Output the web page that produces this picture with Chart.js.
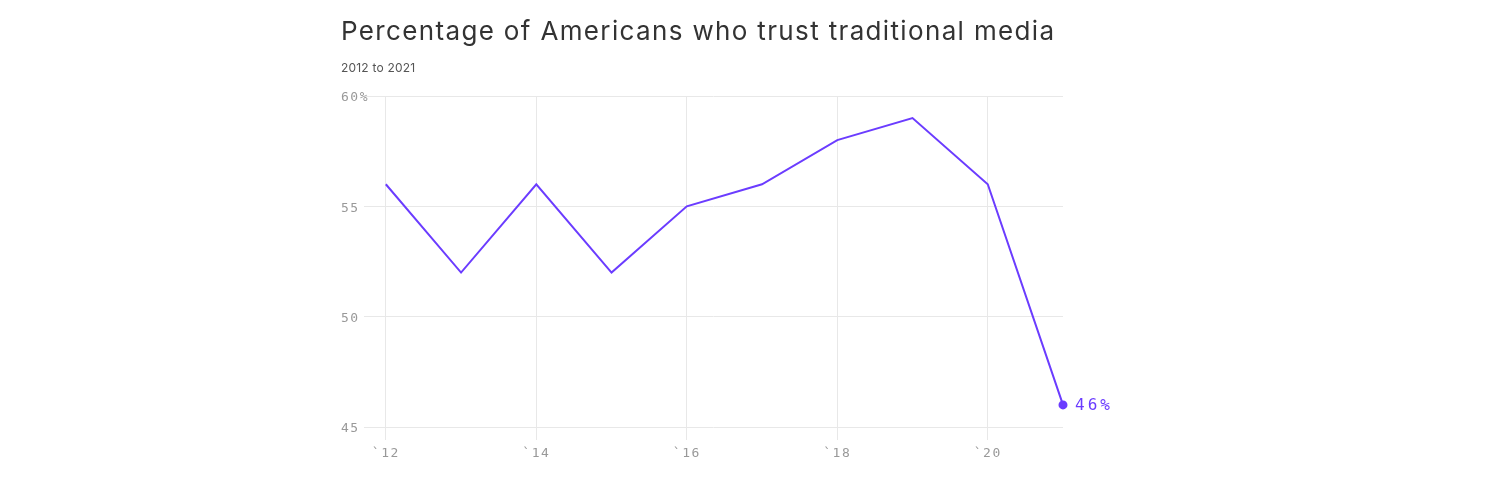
<!DOCTYPE html>
<html>
<head>
<meta charset="utf-8">
<script src="https://cdn.jsdelivr.net/npm/chart.js@4.4.0/dist/chart.umd.min.js"></script>
<style>
  html, body { margin: 0; padding: 0; background: #fff; }
  #wrap { position: relative; width: 1500px; height: 500px; }
  #title { position: absolute; left: 341px; top: 15px; font-family: Inter, sans-serif; font-size: 26px; letter-spacing: 1.35px; color: #333; white-space: nowrap; }
  #subtitle { position: absolute; left: 341px; top: 60px; font-family: Inter, sans-serif; font-size: 12px; letter-spacing: 0.2px; color: #555; white-space: nowrap; }
  canvas { position: absolute; left: 0; top: 0; }
</style>
</head>
<body>
<div id="wrap">
  <canvas id="chart" width="1500" height="500"></canvas>
  <div id="title">Percentage of Americans who trust traditional media</div>
  <div id="subtitle">2012 to 2021</div>
</div>
<script>
const years = [2012, 2013, 2014, 2015, 2016, 2017, 2018, 2019, 2020, 2021];
const trust = [56, 52, 56, 52, 55, 56, 58, 59, 56, 46];
const xTicks = [2012, 2014, 2016, 2018, 2020];
const yTicks = [45, 50, 55, 60];

const purple = "#6b3cff";
const mono = "'DejaVu Sans Mono', monospace";

// wider letter spacing for the axis text, like the original
const spacing = {
  id: "spacing",
  beforeDraw(chart) {
    chart.ctx.letterSpacing = "1.5px";
  }
};

const lastLabel = {
  id: "lastLabel",
  afterDatasetsDraw(chart) {
    const meta = chart.getDatasetMeta(0);
    const pt = meta.data[meta.data.length - 1];
    const ctx = chart.ctx;
    ctx.save();
    ctx.fillStyle = purple;
    ctx.font = "16px " + mono;
    ctx.letterSpacing = "3px";
    ctx.textBaseline = "middle";
    ctx.fillText(trust[trust.length - 1] + "%", pt.x + 12, pt.y + 1);
    ctx.restore();
  }
};

new Chart(document.getElementById("chart").getContext("2d"), {
  type: "line",
  data: {
    datasets: [{
      data: years.map((y, i) => ({ x: y, y: trust[i] })),
      borderColor: purple,
      backgroundColor: purple,
      borderWidth: 2,
      tension: 0,
      clip: false,
      pointRadius: ctx => ctx.dataIndex === years.length - 1 ? 3.5 : 0,
      pointHoverRadius: 0
    }]
  },
  options: {
    responsive: false,
    animation: false,
    events: [],
    layout: { padding: { left: 341, right: 437, top: 96, bottom: 0 } },
    plugins: { legend: { display: false }, tooltip: { enabled: false } },
    scales: {
      x: {
        type: "linear",
        min: 2011.71,
        max: 2021,
        afterBuildTicks: s => { s.ticks = xTicks.map(v => ({ value: v })); },
        afterFit: s => { s.height = 73; },
        border: { display: false },
        grid: { color: "#e8e8e8", tickLength: 13, drawTicks: true },
        ticks: {
          padding: 6,
          color: "#999",
          font: { family: mono, size: 13 },
          maxRotation: 0,
          callback: v => "`" + String(v).slice(2)
        }
      },
      y: {
        min: 45,
        max: 60,
        afterBuildTicks: s => { s.ticks = yTicks.map(v => ({ value: v })); },
        afterFit: s => {
          s.width = 23;
          // let "60%" run past the narrow axis box instead of being cut
          s._computeLabelArea = () => undefined;
        },
        border: { display: false },
        grid: { color: "#e8e8e8", drawTicks: false },
        ticks: {
          crossAlign: "far",
          padding: 0,
          labelOffset: 2,
          color: "#999",
          font: { family: mono, size: 13 },
          callback: v => v === 60 ? v + "%" : String(v)
        }
      }
    }
  },
  plugins: [spacing, lastLabel]
});
</script>
</body>
</html>
